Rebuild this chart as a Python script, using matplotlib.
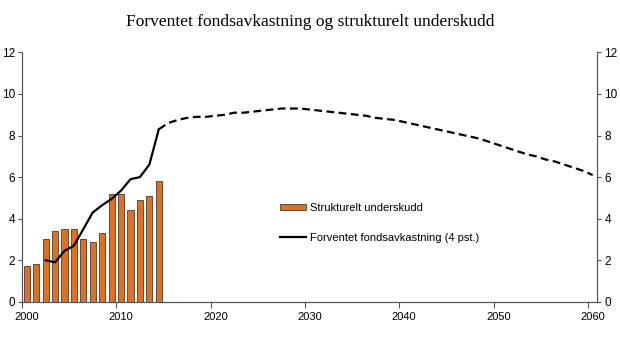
import matplotlib
matplotlib.use("Agg")
import matplotlib.pyplot as plt
import numpy as np

plt.rcParams['font.family'] = ['Liberation Sans', 'DejaVu Sans']

# strukturelt underskudd, historical years
bar_years = list(range(2000, 2015))
deficit = [1.7, 1.8, 3.0, 3.4, 3.5, 3.5, 3.0, 2.9, 3.3, 5.2, 5.2, 4.4, 4.9, 5.1, 5.8]

# forventet fondsavkastning, actual years
hist_years = list(range(2002, 2015))
hist_return = [2.0, 1.9, 2.45, 2.7, 3.5, 4.3, 4.65, 4.95, 5.35, 5.9, 6.0, 6.6, 8.3]

# forventet fondsavkastning, projection
proj_years = list(range(2014, 2061))
proj_return = [8.3, 8.6, 8.75, 8.85, 8.9, 8.9, 8.95, 9.0, 9.1, 9.1,
               9.15, 9.2, 9.25, 9.3, 9.3, 9.3, 9.25, 9.2, 9.15, 9.1,
               9.05, 9.0, 8.95, 8.85, 8.8, 8.75, 8.65, 8.55, 8.45, 8.35,
               8.25, 8.15, 8.05, 7.95, 7.85, 7.7, 7.55, 7.4, 7.25, 7.1,
               7.0, 6.85, 6.75, 6.6, 6.45, 6.3, 6.1]

tick_years = [2000, 2010, 2020, 2030, 2040, 2050, 2060]
y_ticks = [0, 2, 4, 6, 8, 10, 12]

fig = plt.figure(figsize=(6.2, 3.38), dpi=100)
ax = fig.add_axes([0.0355, 0.107, 0.928, 0.738])

bars = ax.bar(bar_years, deficit, width=0.65, color='#dc7125', edgecolor='#4d3a2e',
              linewidth=0.6, label='Strukturelt underskudd', zorder=2)
line, = ax.plot(hist_years, hist_return, color='black', lw=1.6,
                label='Forventet fondsavkastning (4 pst.)', zorder=3)
ax.plot(proj_years, proj_return, color='black', lw=1.6, ls=(0, (3.5, 2)), zorder=3)

ax.set_xlim(1999.5, 2060.5)
ax.set_ylim(0, 12)

# category-style axis: ticks between years, labels on the years
ax.set_xticks([y - 0.5 for y in tick_years])
ax.set_xticklabels([])
ax.set_xticks(tick_years, minor=True)
ax.set_xticklabels([str(y) for y in tick_years], minor=True, fontsize=8)
ax.tick_params(axis='x', which='major', length=4, width=0.8, color='#555555', direction='out')
ax.tick_params(axis='x', which='minor', length=0, pad=7)

ax.set_yticks(y_ticks)
ax.set_yticklabels([str(v) for v in y_ticks], fontsize=8.5)
ax.tick_params(axis='y', length=3, width=0.8, color='#555555', direction='out', pad=2)

ax2 = ax.twinx()
ax2.set_ylim(0, 12)
ax2.set_yticks(y_ticks)
ax2.set_yticklabels([str(v) for v in y_ticks], fontsize=8.5)
ax2.tick_params(axis='y', length=3, width=0.8, color='#555555', direction='out', pad=2)

for a in (ax, ax2):
    a.spines['top'].set_visible(False)
    for s in ('left', 'right', 'bottom'):
        a.spines[s].set_color('#555555')
        a.spines[s].set_linewidth(0.8)

ax.legend([bars, line], [bars.get_label(), line.get_label()],
          loc='upper left', bbox_to_anchor=(0.441, 0.413), frameon=False,
          fontsize=8, handlelength=2.3, handleheight=0.5, handletextpad=0.35,
          labelspacing=1.75, borderaxespad=0)

fig.text(0.5, 0.935, 'Forventet fondsavkastning og strukturelt underskudd',
         ha='center', va='center', fontsize=12.5, family='Liberation Serif')

fig.savefig('out.png', dpi=100)
